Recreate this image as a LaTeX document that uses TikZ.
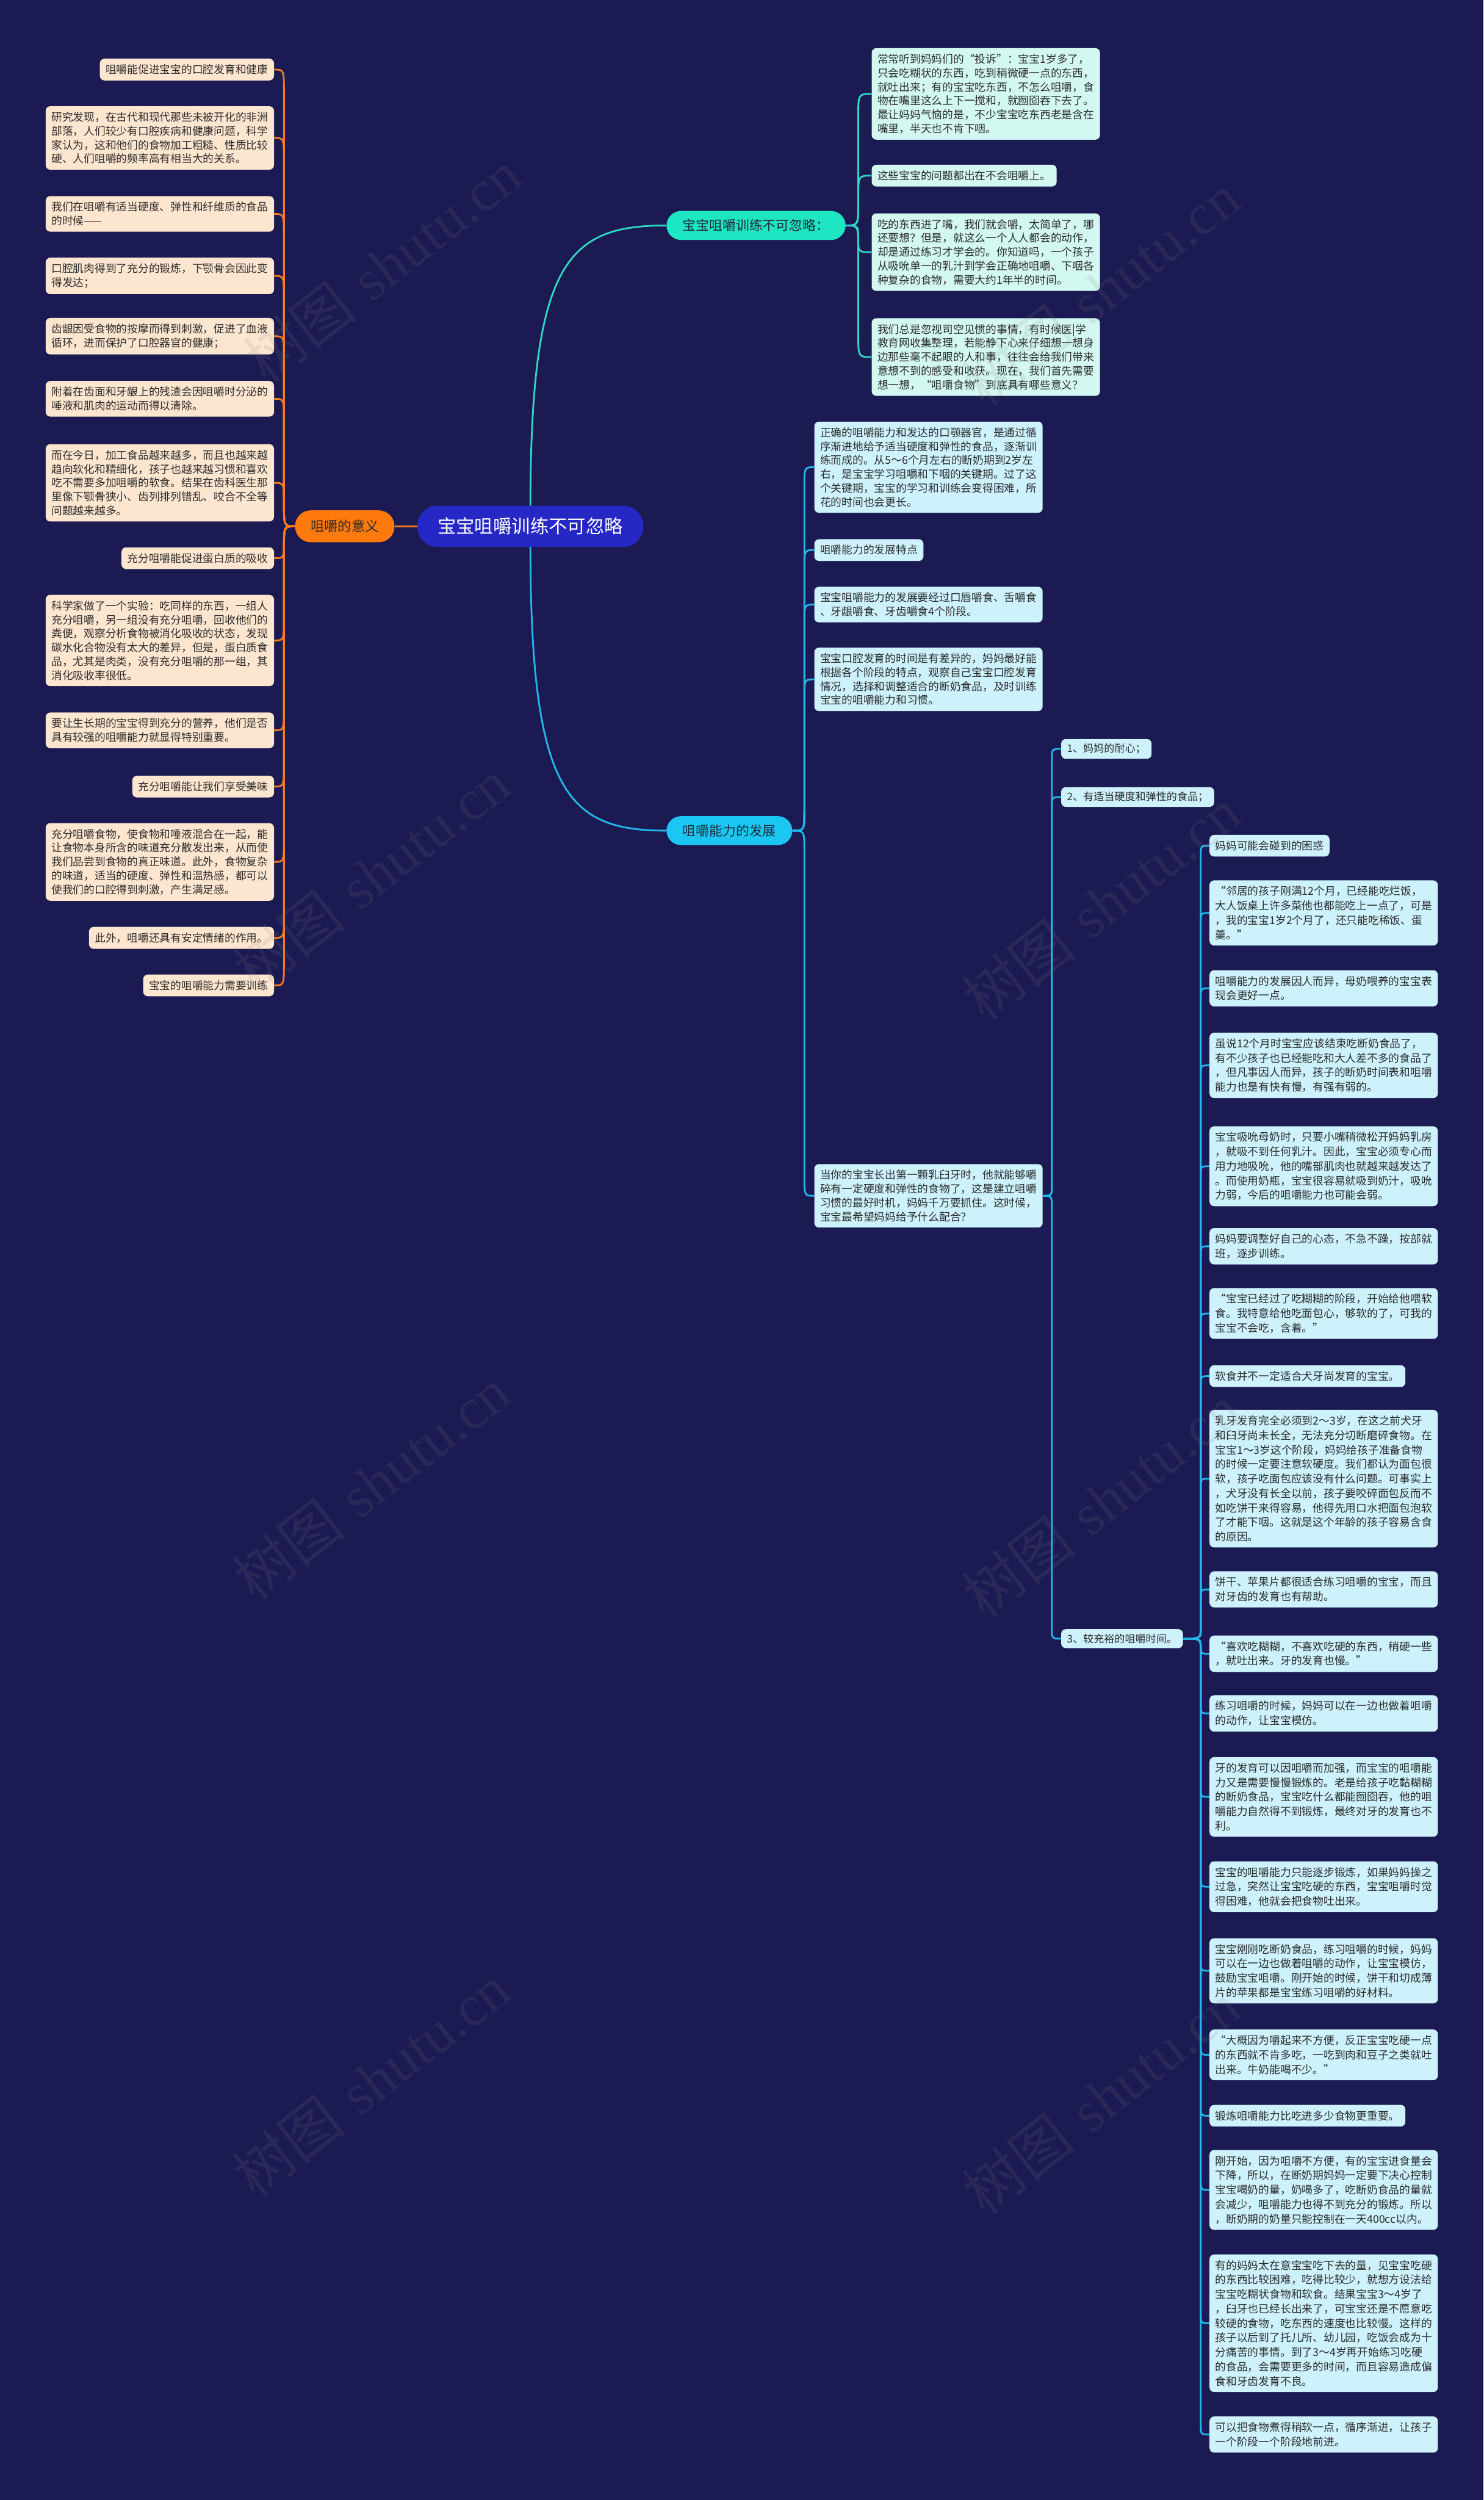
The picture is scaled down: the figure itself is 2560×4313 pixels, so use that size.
\documentclass[tikz,border=0pt]{standalone}
\usepackage{fontspec}
\newfontfamily\cjk{Noto Sans CJK SC}
\newfontfamily\wmserif{Liberation Serif}
\definecolor{bg}{HTML}{1B1A52}
\definecolor{cblue}{HTML}{2528C4}
\definecolor{orangenode}{HTML}{FF7A0D}
\definecolor{orangeline}{HTML}{F47B20}
\definecolor{peach}{HTML}{FDE6CF}
\definecolor{txt}{HTML}{2B2B2B}
\definecolor{tealnode}{HTML}{1EE6C3}
\definecolor{tealline}{HTML}{2FD8C2}
\definecolor{mint}{HTML}{D3F8F1}
\definecolor{cyannode}{HTML}{1CC6F2}
\definecolor{cyanline}{HTML}{22B8EC}
\definecolor{lblue}{HTML}{CDF2FC}
\definecolor{darktxt}{HTML}{1F2D3D}
\newcommand\mmconn[7]{%
  \pgfmathsetmacro\mmsgn{ifthenelse(#6>#5,1,-1)}%
  \pgfmathsetmacro\mmk{min(#7,abs(#6-#5)/2)}%
  \draw[#1] (#2) .. controls (#4,#5) .. (#4,#5+\mmsgn*\mmk) -- (#4,#6-\mmsgn*\mmk) .. controls (#4,#6) .. (#3);
}
\begin{document}
\begin{tikzpicture}[x=1pt,y=-1pt,
  lf/.style={fill=peach, rounded corners=8pt, align=left, inner xsep=10pt, inner ysep=10pt, text=txt, font=\cjk\fontsize{18.7}{24}\selectfont},
  tc/.style={lf, fill=mint},
  bc/.style={lf, fill=lblue},
  fr/.style={lf, fill=lblue, font=\cjk\fontsize{18.7}{25}\selectfont},
  itm/.style={lf, fill=lblue, inner ysep=8pt, font=\cjk\fontsize{18}{22}\selectfont},
  oc/.style={draw=orangeline, line width=3pt},
  tcl/.style={draw=tealline, line width=3pt},
  ccl/.style={draw=cyanline, line width=3pt},
  centralst/.style={fill=cblue, text=white, rounded corners=35pt, font=\cjk\fontsize{32}{36}\selectfont, inner xsep=35pt, inner ysep=0pt, minimum height=71pt},
  meanst/.style={fill=orangenode, text=txt, rounded corners=27pt, font=\cjk\fontsize{23.5}{26}\selectfont, inner xsep=27pt, inner ysep=0pt, minimum height=55pt},
  tealst/.style={fill=tealnode, text=darktxt, rounded corners=25pt, font=\cjk\fontsize{23}{26}\selectfont, inner xsep=28pt, inner ysep=0pt, minimum height=50pt},
  devst/.style={fill=cyannode, text=darktxt, rounded corners=25pt, font=\cjk\fontsize{23}{26}\selectfont, inner xsep=28pt, inner ysep=0pt, minimum height=50pt},
  wm/.style={rotate=38, text=gray, opacity=0.14, font=\fontsize{100}{110}\selectfont}
]
\fill[bg] (0,0) rectangle (2560,4313);
\useasboundingbox (0,0) rectangle (2560,4313);

% main nodes
\node[centralst, anchor=west] (ctr) at (720,908) {宝宝咀嚼训练不可忽略};
\node[meanst, anchor=west] (mean) at (509,908) {咀嚼的意义};
\node[tealst, anchor=west] (teal) at (1150,389) {宝宝咀嚼训练不可忽略：};
\node[devst, anchor=west] (dev) at (1150,1433) {咀嚼能力的发展};

% left leaves
\node[lf, anchor=east] (L1) at (473,120) {咀嚼能促进宝宝的口腔发育和健康};
\node[lf, anchor=east] (L2) at (473,238) {研究发现，在古代和现代那些未被开化的非洲\\部落，人们较少有口腔疾病和健康问题，科学\\家认为，这和他们的食物加工粗糙、性质比较\\硬、人们咀嚼的频率高有相当大的关系。};
\node[lf, anchor=east] (L3) at (473,369) {我们在咀嚼有适当硬度、弹性和纤维质的食品\\的时候——};
\node[lf, anchor=east] (L4) at (473,476) {口腔肌肉得到了充分的锻炼，下颚骨会因此变\\得发达；};
\node[lf, anchor=east] (L5) at (473,580) {齿龈因受食物的按摩而得到刺激，促进了血液\\循环，进而保护了口腔器官的健康；};
\node[lf, anchor=east] (L6) at (473,688) {附着在齿面和牙龈上的残渣会因咀嚼时分泌的\\唾液和肌肉的运动而得以清除。};
\node[lf, anchor=east] (L7) at (473,833) {而在今日，加工食品越来越多，而且也越来越\\趋向软化和精细化，孩子也越来越习惯和喜欢\\吃不需要多加咀嚼的软食。结果在齿科医生那\\里像下颚骨狭小、齿列排列错乱、咬合不全等\\问题越来越多。};
\node[lf, anchor=east] (L8) at (473,963) {充分咀嚼能促进蛋白质的吸收};
\node[lf, anchor=east] (L9) at (473,1105) {科学家做了一个实验：吃同样的东西，一组人\\充分咀嚼，另一组没有充分咀嚼，回收他们的\\粪便，观察分析食物被消化吸收的状态，发现\\碳水化合物没有太大的差异，但是，蛋白质食\\品，尤其是肉类，没有充分咀嚼的那一组，其\\消化吸收率很低。};
\node[lf, anchor=east] (L10) at (473,1260) {要让生长期的宝宝得到充分的营养，他们是否\\具有较强的咀嚼能力就显得特别重要。};
\node[lf, anchor=east] (L11) at (473,1357) {充分咀嚼能让我们享受美味};
\node[lf, anchor=east] (L12) at (473,1487) {充分咀嚼食物，使食物和唾液混合在一起，能\\让食物本身所含的味道充分散发出来，从而使\\我们品尝到食物的真正味道。此外，食物复杂\\的味道，适当的硬度、弹性和温热感，都可以\\使我们的口腔得到刺激，产生满足感。};
\node[lf, anchor=east] (L13) at (473,1618) {此外，咀嚼还具有安定情绪的作用。};
\node[lf, anchor=east] (L14) at (473,1700) {宝宝的咀嚼能力需要训练};

% teal children
\node[tc, anchor=west] (T1) at (1504,162) {常常听到妈妈们的“投诉”：宝宝1岁多了，\\只会吃糊状的东西，吃到稍微硬一点的东西，\\就吐出来；有的宝宝吃东西，不怎么咀嚼，食\\物在嘴里这么上下一搅和，就囫囵吞下去了。\\最让妈妈气恼的是，不少宝宝吃东西老是含在\\嘴里，半天也不肯下咽。};
\node[tc, anchor=west] (T2) at (1504,303) {这些宝宝的问题都出在不会咀嚼上。};
\node[tc, anchor=west] (T3) at (1504,435) {吃的东西进了嘴，我们就会嚼，太简单了，哪\\还要想？但是，就这么一个人人都会的动作，\\却是通过练习才学会的。你知道吗，一个孩子\\从吸吮单一的乳汁到学会正确地咀嚼、下咽各\\种复杂的食物，需要大约1年半的时间。};
\node[tc, anchor=west] (T4) at (1504,616) {我们总是忽视司空见惯的事情，有时候医|学\\教育网收集整理，若能静下心来仔细想一想身\\边那些毫不起眼的人和事，往往会给我们带来\\意想不到的感受和收获。现在，我们首先需要\\想一想，“咀嚼食物”到底具有哪些意义？};

% middle children
\node[bc, anchor=west] (M1) at (1405,806) {正确的咀嚼能力和发达的口颚器官，是通过循\\序渐进地给予适当硬度和弹性的食品，逐渐训\\练而成的。从5～6个月左右的断奶期到2岁左\\右，是宝宝学习咀嚼和下咽的关键期。过了这\\个关键期，宝宝的学习和训练会变得困难，所\\花的时间也会更长。};
\node[bc, anchor=west] (M2) at (1405,949) {咀嚼能力的发展特点};
\node[bc, anchor=west] (M3) at (1405,1043) {宝宝咀嚼能力的发展要经过口唇嚼食、舌嚼食\\、牙龈嚼食、牙齿嚼食4个阶段。};
\node[bc, anchor=west] (M4) at (1405,1172) {宝宝口腔发育的时间是有差异的，妈妈最好能\\根据各个阶段的特点，观察自己宝宝口腔发育\\情况，选择和调整适合的断奶食品，及时训练\\宝宝的咀嚼能力和习惯。};
\node[bc, anchor=west] (M5) at (1405,2063) {当你的宝宝长出第一颗乳臼牙时，他就能够嚼\\碎有一定硬度和弹性的食物了，这是建立咀嚼\\习惯的最好时机，妈妈千万要抓住。这时候，\\宝宝最希望妈妈给予什么配合？};

% items
\node[itm, anchor=west] (I1) at (1831,1292) {1、妈妈的耐心；};
\node[itm, anchor=west] (I2) at (1831,1375) {2、有适当硬度和弹性的食品；};
\node[itm, anchor=west] (I3) at (1831,2827) {3、较充裕的咀嚼时间。};

% far right
\node[fr, anchor=west] (F1) at (2087,1459) {妈妈可能会碰到的困惑};
\node[fr, anchor=west] (F2) at (2087,1575) {“邻居的孩子刚满12个月，已经能吃烂饭，\\大人饭桌上许多菜他也都能吃上一点了，可是\\，我的宝宝1岁2个月了，还只能吃稀饭、蛋\\羹。”};
\node[fr, anchor=west] (F3) at (2087,1705) {咀嚼能力的发展因人而异，母奶喂养的宝宝表\\现会更好一点。};
\node[fr, anchor=west] (F4) at (2087,1838) {虽说12个月时宝宝应该结束吃断奶食品了，\\有不少孩子也已经能吃和大人差不多的食品了\\，但凡事因人而异，孩子的断奶时间表和咀嚼\\能力也是有快有慢，有强有弱的。};
\node[fr, anchor=west] (F5) at (2087,2012) {宝宝吸吮母奶时，只要小嘴稍微松开妈妈乳房\\，就吸不到任何乳汁。因此，宝宝必须专心而\\用力地吸吮，他的嘴部肌肉也就越来越发达了\\。而使用奶瓶，宝宝很容易就吸到奶汁，吸吮\\力弱，今后的咀嚼能力也可能会弱。};
\node[fr, anchor=west] (F6) at (2087,2150) {妈妈要调整好自己的心态，不急不躁，按部就\\班，逐步训练。};
\node[fr, anchor=west] (F7) at (2087,2266) {“宝宝已经过了吃糊糊的阶段，开始给他喂软\\食。我特意给他吃面包心，够软的了，可我的\\宝宝不会吃，含着。”};
\node[fr, anchor=west] (F8) at (2087,2374) {软食并不一定适合犬牙尚发育的宝宝。};
\node[fr, anchor=west] (F9) at (2087,2551) {乳牙发育完全必须到2～3岁，在这之前犬牙\\和臼牙尚未长全，无法充分切断磨碎食物。在\\宝宝1～3岁这个阶段，妈妈给孩子准备食物\\的时候一定要注意软硬度。我们都认为面包很\\软，孩子吃面包应该没有什么问题。可事实上\\，犬牙没有长全以前，孩子要咬碎面包反而不\\如吃饼干来得容易，他得先用口水把面包泡软\\了才能下咽。这就是这个年龄的孩子容易含食\\的原因。};
\node[fr, anchor=west] (F10) at (2087,2742) {饼干、苹果片都很适合练习咀嚼的宝宝，而且\\对牙齿的发育也有帮助。};
\node[fr, anchor=west] (F11) at (2087,2853) {“喜欢吃糊糊，不喜欢吃硬的东西，稍硬一些\\，就吐出来。牙的发育也慢。”};
\node[fr, anchor=west] (F12) at (2087,2956) {练习咀嚼的时候，妈妈可以在一边也做着咀嚼\\的动作，让宝宝模仿。};
\node[fr, anchor=west] (F13) at (2087,3100) {牙的发育可以因咀嚼而加强，而宝宝的咀嚼能\\力又是需要慢慢锻炼的。老是给孩子吃黏糊糊\\的断奶食品，宝宝吃什么都能囫囵吞，他的咀\\嚼能力自然得不到锻炼，最终对牙的发育也不\\利。};
\node[fr, anchor=west] (F14) at (2087,3255) {宝宝的咀嚼能力只能逐步锻炼，如果妈妈操之\\过急，突然让宝宝吃硬的东西，宝宝咀嚼时觉\\得困难，他就会把食物吐出来。};
\node[fr, anchor=west] (F15) at (2087,3400) {宝宝刚刚吃断奶食品，练习咀嚼的时候，妈妈\\可以在一边也做着咀嚼的动作，让宝宝模仿，\\鼓励宝宝咀嚼。刚开始的时候，饼干和切成薄\\片的苹果都是宝宝练习咀嚼的好材料。};
\node[fr, anchor=west] (F16) at (2087,3545) {“大概因为嚼起来不方便，反正宝宝吃硬一点\\的东西就不肯多吃，一吃到肉和豆子之类就吐\\出来。牛奶能喝不少。”};
\node[fr, anchor=west] (F17) at (2087,3650) {锻炼咀嚼能力比吃进多少食物更重要。};
\node[fr, anchor=west] (F18) at (2087,3778) {刚开始，因为咀嚼不方便，有的宝宝进食量会\\下降，所以，在断奶期妈妈一定要下决心控制\\宝宝喝奶的量，奶喝多了，吃断奶食品的量就\\会减少，咀嚼能力也得不到充分的锻炼。所以\\，断奶期的奶量只能控制在一天400cc以内。};
\node[fr, anchor=west] (F19) at (2087,4008) {有的妈妈太在意宝宝吃下去的量，见宝宝吃硬\\的东西比较困难，吃得比较少，就想方设法给\\宝宝吃糊状食物和软食。结果宝宝3～4岁了\\，臼牙也已经长出来了，可宝宝还是不愿意吃\\较硬的食物，吃东西的速度也比较慢。这样的\\孩子以后到了托儿所、幼儿园，吃饭会成为十\\分痛苦的事情。到了3～4岁再开始练习吃硬\\的食品，会需要更多的时间，而且容易造成偏\\食和牙齿发育不良。};
\node[fr, anchor=west] (F20) at (2087,4200) {可以把食物煮得稍软一点，循序渐进，让孩子\\一个阶段一个阶段地前进。};

% main connectors
\draw[oc] (mean.east) -- (ctr.west);
\draw[tcl] (ctr.north) .. controls (916,450) and (980,389) .. (teal.west);
\draw[ccl] (ctr.south) .. controls (916,1370) and (980,1433) .. (dev.west);

% orange
\foreach \n/\y in {L1/120,L2/238,L3/369,L4/476,L5/580,L6/688,L7/833,L8/963,L9/1105,L10/1260,L11/1357,L12/1487,L13/1618,L14/1700}{
  \mmconn{oc}{mean.west}{\n.east}{490}{908}{\y}{40}
}
% teal
\foreach \n/\y in {T1/162,T2/303,T3/435,T4/616}{
  \mmconn{tcl}{teal.east}{\n.west}{1481}{389}{\y}{40}
}
% middle
\foreach \n/\y in {M1/806,M2/949,M3/1043,M4/1172,M5/2063}{
  \mmconn{ccl}{dev.east}{\n.west}{1388}{1433}{\y}{35}
}
% items
\foreach \n/\y in {I1/1292,I2/1375,I3/2827}{
  \mmconn{ccl}{M5.east}{\n.west}{1815}{2063}{\y}{20}
}
% far right
\foreach \n/\y in {F1/1459,F2/1575,F3/1705,F4/1838,F5/2012,F6/2150,F7/2266,F8/2374,F9/2551,F10/2742,F11/2853,F12/2956,F13/3100,F14/3255,F15/3400,F16/3545,F17/3650,F18/3778,F19/4008,F20/4200}{
  \mmconn{ccl}{I3.east}{\n.west}{2072}{2827}{\y}{18}
}

% watermarks
\foreach \wx/\wy [count=\i] in {660/460,1900/500,640/1510,1900/1560,640/2560,1900/2590,640/3590,1900/3620}{
  \node[wm] (wm\i) at (\wx,\wy) {{\cjk 树图} {\wmserif shutu.cn}};
}
\end{tikzpicture}
\end{document}
